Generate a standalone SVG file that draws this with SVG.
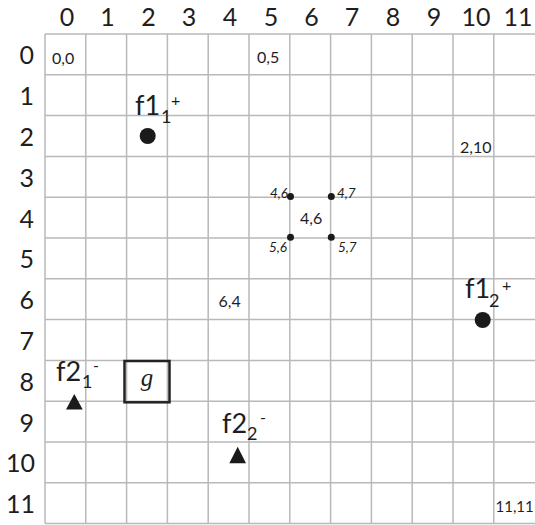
<svg xmlns="http://www.w3.org/2000/svg" width="535" height="525" viewBox="0 0 535 525">
<style>
.grid line{stroke:#b9b9b9;stroke-width:1.5}
text{font-family:Lato,"Open Sans","Liberation Sans",sans-serif;fill:#1e1e1e}
.ax{font-size:25px}
.cx{text-anchor:middle}
.rx{text-anchor:end}
.cell{font-size:16px}
.it{font-size:13.5px;font-style:italic}
.big{font-size:27px}
.sub{font-size:18px}
.sup{font-size:16px}
.dot{fill:#1a1a1a}
</style>
<rect width="535" height="525" fill="#fff"/>
<g class="grid" id="grid">
<line x1="45" y1="34" x2="535" y2="34"/>
<line x1="45" y1="74.8" x2="535" y2="74.8"/>
<line x1="45" y1="115.6" x2="535" y2="115.6"/>
<line x1="45" y1="156.4" x2="535" y2="156.4"/>
<line x1="45" y1="197.2" x2="535" y2="197.2"/>
<line x1="45" y1="238" x2="535" y2="238"/>
<line x1="45" y1="278.8" x2="535" y2="278.8"/>
<line x1="45" y1="319.6" x2="535" y2="319.6"/>
<line x1="45" y1="360.4" x2="535" y2="360.4"/>
<line x1="45" y1="401.2" x2="535" y2="401.2"/>
<line x1="45" y1="442" x2="535" y2="442"/>
<line x1="45" y1="482.8" x2="535" y2="482.8"/>
<line x1="45" y1="523.6" x2="535" y2="523.6"/>
<line x1="45" y1="34" x2="45" y2="523.6"/>
<line x1="85.8" y1="34" x2="85.8" y2="523.6"/>
<line x1="126.6" y1="34" x2="126.6" y2="523.6"/>
<line x1="167.4" y1="34" x2="167.4" y2="523.6"/>
<line x1="208.2" y1="34" x2="208.2" y2="523.6"/>
<line x1="249" y1="34" x2="249" y2="523.6"/>
<line x1="289.8" y1="34" x2="289.8" y2="523.6"/>
<line x1="330.6" y1="34" x2="330.6" y2="523.6"/>
<line x1="371.4" y1="34" x2="371.4" y2="523.6"/>
<line x1="412.2" y1="34" x2="412.2" y2="523.6"/>
<line x1="453" y1="34" x2="453" y2="523.6"/>
<line x1="493.8" y1="34" x2="493.8" y2="523.6"/>
</g>
<g id="col-labels" class="ax cx">
<text x="67" y="26">0</text>
<text x="107.5" y="26">1</text>
<text x="148.5" y="26">2</text>
<text x="189" y="26">3</text>
<text x="230" y="26">4</text>
<text x="271" y="26">5</text>
<text x="311.5" y="26">6</text>
<text x="352" y="26">7</text>
<text x="393" y="26">8</text>
<text x="434" y="26">9</text>
<text x="476" y="26">10</text>
<text x="518" y="26">11</text>
</g>
<g id="row-labels" class="ax rx">
<text x="34" y="64">0</text>
<text x="34" y="105">1</text>
<text x="34" y="146">2</text>
<text x="34" y="187">3</text>
<text x="34" y="228">4</text>
<text x="34" y="268">5</text>
<text x="34" y="309">6</text>
<text x="34" y="350">7</text>
<text x="34" y="391">8</text>
<text x="34" y="432">9</text>
<text x="35" y="472">10</text>
<text x="35" y="513">11</text>
</g>
<g id="cell-labels" class="cell">
<text x="52" y="64">0,0</text>
<text x="257" y="63">0,5</text>
<text x="460" y="153">2,10</text>
<text x="218.5" y="307">6,4</text>
<text x="495.5" y="512" style="font-size:15px">11,11</text>
</g>
<g id="cell-4-6">
<circle class="dot" cx="290.5" cy="196.5" r="3.5"/>
<circle class="dot" cx="331.3" cy="196.5" r="3.5"/>
<circle class="dot" cx="290.5" cy="237.3" r="3.5"/>
<circle class="dot" cx="331.3" cy="237.3" r="3.5"/>
<text class="cell" x="300" y="224">4,6</text>
<text class="it rx" x="288" y="198">4,6</text>
<text class="it" x="337" y="198">4,7</text>
<text class="it rx" x="287" y="252">5,6</text>
<text class="it" x="338" y="252">5,7</text>
</g>
<g id="f1-1">
<text class="big" x="135" y="115">f1</text>
<text class="sub" x="161" y="123">1</text>
<text class="sup" x="171" y="106">+</text>
<circle class="dot" cx="147.7" cy="136" r="8"/>
</g>
<g id="f1-2">
<text class="big" x="465" y="298">f1</text>
<text class="sub" x="489" y="307">2</text>
<text class="sup" x="502" y="291">+</text>
<circle class="dot" cx="482.7" cy="320" r="8"/>
</g>
<g id="f2-1">
<text class="big" x="56" y="381">f2</text>
<text class="sub" x="82" y="388">1</text>
<text class="sup" x="93" y="371">-</text>
<polygon class="dot" points="74.3,394 66,409.5 82.7,409.5"/>
</g>
<g id="f2-2">
<text class="big" x="222" y="433">f2</text>
<text class="sub" x="247" y="440">2</text>
<text class="sup" x="260" y="423">-</text>
<polygon class="dot" points="237.7,446.7 229.3,463.3 246,463.3"/>
</g>
<g id="g">
<rect x="124.5" y="361" width="45" height="41.3" fill="none" stroke="#222" stroke-width="2.5"/>
<text x="147" y="386" text-anchor="middle" style="font-family:'Liberation Serif','DejaVu Serif',serif;font-style:italic;font-size:25px">g</text>
</g>
<g id="connectors"/>
</svg>
